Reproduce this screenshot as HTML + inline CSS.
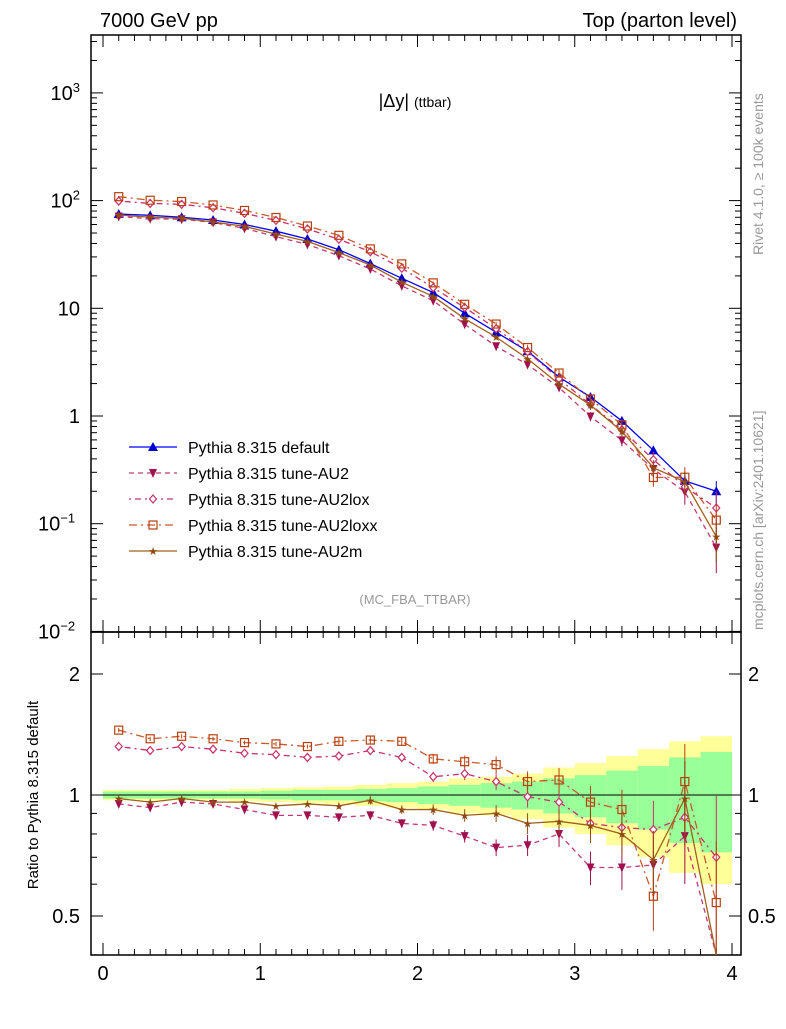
<!DOCTYPE html>
<html><head><meta charset="utf-8"><style>
body{margin:0;background:#fff;}
svg text{font-family:"Liberation Sans",sans-serif;}
</style></head><body>
<svg id="c" width="786" height="1024" xmlns="http://www.w3.org/2000/svg">
<g id="bands"></g>
<g id="axes"></g>
<g id="series"></g>
<text x="100" y="27" font-size="20">7000 GeV pp</text>
<text x="737" y="27" font-size="20" text-anchor="end">Top (parton level)</text>
<text x="415" y="107" font-size="18" text-anchor="middle">|Δy| <tspan font-size="14">(ttbar)</tspan></text>
<text x="415" y="604" font-size="13" fill="#999" text-anchor="middle">(MC_FBA_TTBAR)</text>
<text transform="translate(763,255) rotate(-90)" font-size="14" fill="#999">Rivet 4.1.0, ≥ 100k events</text>
<text transform="translate(763,630) rotate(-90)" font-size="14" fill="#999">mcplots.cern.ch [arXiv:2401.10621]</text>
<text transform="translate(38,795) rotate(-90)" font-size="15" text-anchor="middle">Ratio to Pythia 8.315 default</text>
<g id="legend"></g>
</svg>
<script>
const xs=[0.1,0.3,0.5,0.7,0.9,1.1,1.3,1.5,1.7,1.9,2.1,2.3,2.5,2.7,2.9,3.1,3.3,3.5,3.7,3.9];
const defVals=[75,73,70,66,60,52,44,35,26,19,14,9,6,4,2.3,1.5,0.9,0.48,0.25,0.2];
const rAU2=[0.95,0.93,0.96,0.95,0.92,0.89,0.89,0.88,0.89,0.85,0.84,0.79,0.74,0.75,0.8,0.66,0.66,0.67,0.79,0.3];
const rLox=[1.32,1.29,1.32,1.3,1.27,1.26,1.24,1.25,1.29,1.24,1.11,1.13,1.08,0.99,0.96,0.85,0.83,0.82,0.88,0.7];
const rLoxx=[1.45,1.38,1.4,1.38,1.35,1.34,1.32,1.36,1.37,1.36,1.23,1.21,1.19,1.08,1.09,0.96,0.92,0.56,1.08,0.54];
const rM=[0.98,0.96,0.98,0.96,0.96,0.94,0.95,0.94,0.97,0.92,0.92,0.89,0.9,0.85,0.86,0.84,0.8,0.69,0.98,0.38];
const greenHW=[0.02,0.02,0.02,0.02,0.02,0.025,0.03,0.03,0.035,0.04,0.05,0.06,0.07,0.08,0.1,0.12,0.15,0.18,0.24,0.28];
const yellowHW=[0.03,0.03,0.03,0.03,0.035,0.04,0.045,0.05,0.06,0.07,0.08,0.1,0.11,0.13,0.17,0.2,0.25,0.3,0.36,0.4];
const relErr=[0.01,0.01,0.01,0.01,0.01,0.01,0.01,0.015,0.02,0.02,0.025,0.03,0.04,0.05,0.06,0.08,0.1,0.15,0.2,0.35];
const xTicks=[0,1,2,3,4];

const NS="http://www.w3.org/2000/svg";
const L=91,R=741,T=35,MB=632,RB=955;
const X=v=>103+v*157.25;
const Ym=v=>416-Math.log10(v)*107.7;
const Yr=v=>795-Math.log2(v)*121;
function mk(tag,at,parent){const e=document.createElementNS(NS,tag);for(const k in at)e.setAttribute(k,at[k]);document.getElementById(parent).appendChild(e);return e;}

for(let i=0;i<xs.length;i++){
  const x0=X(xs[i]-0.1),x1=X(xs[i]+0.1);
  const y=mk('rect',{x:x0,y:Yr(1+yellowHW[i]),width:x1-x0,height:Yr(1-yellowHW[i])-Yr(1+yellowHW[i]),fill:'#ffff99'},'bands');
  
  
  const g=mk('rect',{x:x0,y:Yr(1+greenHW[i]),width:x1-x0,height:Yr(1-greenHW[i])-Yr(1+greenHW[i]),fill:'#99ff99'},'bands');
  
  
}
const f1=mk('rect',{x:L,y:T,width:R-L,height:MB-T,fill:'none',stroke:'#000','stroke-width':1.5},'axes');


const f2=mk('rect',{x:L,y:MB,width:R-L,height:RB-MB,fill:'none',stroke:'#000','stroke-width':1.5},'axes');


for(let v=0;v<=4.001;v+=0.1){
  const maj=Math.abs(v-Math.round(v))<1e-6;const len=maj?12:6;const x=X(v);
  for(const [yb,dir] of [[MB,-1],[T,1],[RB,-1],[MB,1]]) mk('line',{x1:x,x2:x,y1:yb,y2:yb+dir*len,stroke:'#000'},'axes');
}
xTicks.forEach(v=>{const t=mk('text',{x:X(v),y:980,'font-size':20,'text-anchor':'middle'},'axes');t.textContent=v;

});
for(let d=-2;d<=3;d++){
  for(let m=1;m<10;m++){const v=m*Math.pow(10,d);const y=Ym(v);if(y<T||y>MB)continue;const len=m==1?12:6;
    mk('line',{x1:L,x2:L+len,y1:y,y2:y,stroke:'#000'},'axes');mk('line',{x1:R,x2:R-len,y1:y,y2:y,stroke:'#000'},'axes');}
}
[[3,'10<tspan dy="-8" font-size="13">3</tspan>'],[2,'10<tspan dy="-8" font-size="13">2</tspan>'],[1,'10'],[0,'1'],[-1,'10<tspan dy="-8" font-size="13">−1</tspan>'],[-2,'10<tspan dy="-8" font-size="13">−2</tspan>']].forEach(([d,s])=>{
  const t=mk('text',{x:d<0?38:80,y:Ym(Math.pow(10,d))+7,'font-size':20,'text-anchor':d<0?'start':'end'},'axes');t.innerHTML=s;
  
  
});
for(const v of [0.4,0.5,0.6,0.7,0.8,0.9,1,2]){const y=Yr(v);const len=(v==0.5||v==1||v==2)?12:6;
  mk('line',{x1:L,x2:L+len,y1:y,y2:y,stroke:'#000'},'axes');mk('line',{x1:R,x2:R-len,y1:y,y2:y,stroke:'#000'},'axes');}
[[2,'2'],[1,'1'],[0.5,'0.5']].forEach(([v,s])=>{for(const [x,a] of [[80,'end'],[748,'start']]){const t=mk('text',{x:x,y:Yr(v)+7,'font-size':20,'text-anchor':a},'axes');t.textContent=s;

}});
mk('line',{x1:L,x2:R,y1:Yr(1),y2:Yr(1),stroke:'#000'},'axes');

const series=[
 {name:'default',r:xs.map(()=>1),col:'#0000ff',mcol:'#0000cc',dash:'',mark:'tri',label:'Pythia 8.315 default'},
 {name:'au2',r:rAU2,col:'#c03a78',mcol:'#a0104e',dash:'5,4',mark:'itri',label:'Pythia 8.315 tune-AU2'},
 {name:'au2lox',r:rLox,col:'#c8306a',mcol:'#c8306a',dash:'2,4,6,4',mark:'dia',label:'Pythia 8.315 tune-AU2lox'},
 {name:'au2loxx',r:rLoxx,col:'#c85a2a',mcol:'#b84010',dash:'8,4,2,4',mark:'sq',label:'Pythia 8.315 tune-AU2loxx'},
 {name:'au2m',r:rM,col:'#a0601a',mcol:'#904a10',dash:'',mark:'star',label:'Pythia 8.315 tune-AU2m'}];
function marker(type,x,y,c,parent){
  let e;
  if(type=='tri')e=mk('polygon',{points:`${x},${y-5} ${x-5},${y+4} ${x+5},${y+4}`,fill:c},parent);
  else if(type=='itri')e=mk('polygon',{points:`${x},${y+5} ${x-4},${y-4} ${x+4},${y-4}`,fill:c},parent);
  else if(type=='dia')e=mk('polygon',{points:`${x},${y-4} ${x-3.5},${y} ${x},${y+4} ${x+3.5},${y}`,fill:'#fff',stroke:c,'stroke-width':1.2},parent);
  else if(type=='sq')e=mk('rect',{x:x-4,y:y-4,width:8,height:8,fill:'none',stroke:c,'stroke-width':1.2},parent);
  else e=mk('text',{x:x,y:y+4,'font-size':11,fill:c,'text-anchor':'middle'},parent),e.textContent='★';
  
  
}
series.forEach((s,si)=>{
  const vals=s.r.map((r,i)=>r*defVals[i]);
  const mp=mk('polyline',{points:xs.map((x,i)=>X(x)+','+Ym(vals[i])).join(' '),fill:'none',stroke:s.col,'stroke-width':1.3,'stroke-dasharray':s.dash},'series');
  
  
  if(si>0){
  const rp=mk('polyline',{points:xs.map((x,i)=>X(x)+','+Math.min(RB,Yr(s.r[i]))).join(' '),fill:'none',stroke:s.col,'stroke-width':1.3,'stroke-dasharray':s.dash},'series');
  
  }
  xs.forEach((x,i)=>{
    const e=relErr[i]*(si==0?0.7:1.2);
    mk('line',{x1:X(x),x2:X(x),y1:Ym(vals[i]*(1+e)),y2:Ym(vals[i]*(1-e)),stroke:s.mcol},'series');
    marker(s.mark,X(x),Ym(vals[i]),s.mcol,'series');
    if(si>0){const ry=Yr(s.r[i]);if(ry<RB){
      mk('line',{x1:X(x),x2:X(x),y1:Yr(s.r[i]*(1+e)),y2:Math.min(RB,Yr(s.r[i]*(1-e))),stroke:s.mcol},'series');
      marker(s.mark,X(x),ry,s.mcol,'series');}}
  });
  const ly=447+si*26;
  const ll=mk('line',{x1:129,x2:177,y1:ly,y2:ly,stroke:s.col,'stroke-width':1.3,'stroke-dasharray':s.dash},'legend');
  
  
  marker(s.mark,153,ly,s.mcol,'legend');
  const t=mk('text',{x:188,y:ly+6,'font-size':16},'legend');t.textContent=s.label;
  
  
});
</script>
</body></html>
